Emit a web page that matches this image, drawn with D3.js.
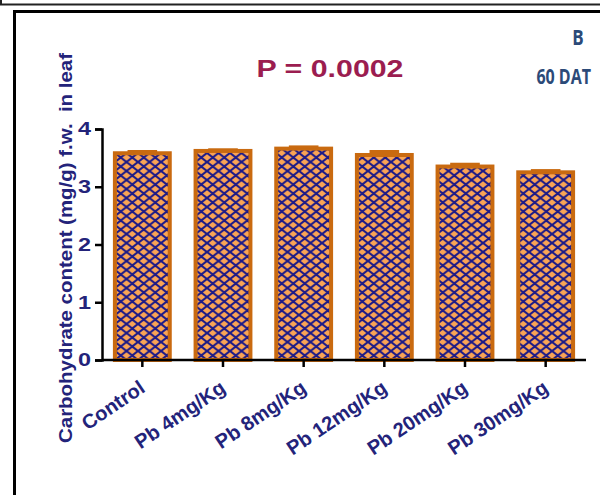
<!DOCTYPE html>
<html>
<head>
<meta charset="utf-8">
<script src="https://cdn.jsdelivr.net/npm/d3@7/dist/d3.min.js"></script>
<style>
  html, body { margin: 0; padding: 0; background: #fff; }
  svg { display: block; }
</style>
</head>
<body>
<svg id="chart" width="600" height="495"></svg>
<script>
// Carbohydrate content in leaf at 60 DAT, by lead treatment
const categories = ["Control", "Pb 4mg/Kg", "Pb 8mg/Kg", "Pb 12mg/Kg", "Pb 20mg/Kg", "Pb 30mg/Kg"];
const means = [3.58, 3.62, 3.66, 3.55, 3.35, 3.25];
const errors = [0.03, 0.02, 0.03, 0.06, 0.04, 0.03];
const yTicks = [0, 1, 2, 3, 4];
const yTitle = "Carbohydrate content (mg/g) f.w.\u00a0 in leaf";
const pLabel = "P = 0.0002";
const panelLabel = "B";
const timeLabel = "60 DAT";

const svg = d3.select("#chart");
const navy = "#23237a";
const barEdge = "#c96a10";
const barFill = "#f9a455";
const hatch = "#1c1a88";
const STRETCH = 1.3; // horizontal widening applied to tick digits

// frame lines
svg.append("line").attr("x1", 0).attr("x2", 600).attr("y1", 4.5).attr("y2", 4.5)
  .attr("stroke", "#222").attr("stroke-width", 2);
svg.append("line").attr("x1", 1).attr("x2", 1).attr("y1", 0).attr("y2", 5)
  .attr("stroke", "#222").attr("stroke-width", 2);
svg.append("rect").attr("x", 14.5).attr("y", 11.5).attr("width", 640).attr("height", 540)
  .attr("fill", "none").attr("stroke", "#000").attr("stroke-width", 3);

// crosshatch pattern
const defs = svg.append("defs");
const pw = 11.5, ph = 9;
const pat = defs.append("pattern").attr("id", "xhatch")
  .attr("patternUnits", "userSpaceOnUse").attr("width", pw).attr("height", ph)
  .attr("x", 0).attr("y", 0);
pat.append("rect").attr("width", pw).attr("height", ph).attr("fill", barFill);
pat.append("path")
  .attr("d", `M${-pw/2},${-ph/2}L${pw*1.5},${ph*1.5}M${-pw/2},${ph*1.5}L${pw*1.5},${-ph/2}`)
  .attr("stroke", hatch).attr("stroke-width", 2.1).attr("fill", "none");

// scales
const x = d3.scaleBand().domain(categories).range([102, 586])
  .paddingInner(0.32).paddingOuter(0.16);
const y = d3.scaleLinear().domain([0, 4]).range([360, 129]);

// bars
svg.append("g").selectAll("rect").data(categories).join("rect")
  .attr("x", d => x(d))
  .attr("width", x.bandwidth())
  .attr("y", (d, i) => y(means[i]))
  .attr("height", (d, i) => y(0) - y(means[i]))
  .attr("fill", "url(#xhatch)")
  .attr("stroke", barEdge).attr("stroke-width", 4);

// error bars (upper)
const eg = svg.append("g").attr("stroke", barEdge).attr("stroke-width", 3);
categories.forEach((c, i) => {
  const cx = x(c) + x.bandwidth() / 2;
  const half = x.bandwidth() * 0.27;
  eg.append("line").attr("x1", cx).attr("x2", cx)
    .attr("y1", y(means[i])).attr("y2", y(means[i] + errors[i]));
  eg.append("line").attr("x1", cx - half).attr("x2", cx + half)
    .attr("y1", y(means[i] + errors[i])).attr("y2", y(means[i] + errors[i]));
});

// axes
const yAxis = svg.append("g").attr("transform", "translate(102,0)")
  .call(d3.axisLeft(y).tickValues(yTicks).tickSize(7).tickFormat(d3.format("d")));
const xAxis = svg.append("g").attr("transform", "translate(0,360)")
  .call(d3.axisBottom(x).tickSize(7).tickSizeOuter(0));
[yAxis, xAxis].forEach(g => {
  g.select(".domain").attr("stroke", "#000").attr("stroke-width", 2.5);
  g.selectAll(".tick line").attr("stroke", "#000").attr("stroke-width", 2.5);
  g.selectAll("text").remove();
});
xAxis.select(".domain").attr("d", "M102,0H586");

// y tick labels
svg.append("g").selectAll("text").data(yTicks).join("text")
  .attr("transform", d => `translate(91,${y(d)}) scale(${STRETCH},1)`)
  .attr("dy", "0.36em")
  .attr("text-anchor", "end")
  .attr("font-family", "Liberation Sans, Arial, sans-serif")
  .attr("font-weight", "bold").attr("font-size", 18).attr("fill", navy)
  .text(d => d);

// x tick labels, slanted
svg.append("g").selectAll("text").data(categories).join("text")
  .attr("transform", d => `translate(${x(d) + x.bandwidth() / 2 + 4},391) rotate(-34)`)
  .attr("text-anchor", "end")
  .attr("font-family", "Liberation Sans, Arial, sans-serif")
  .attr("font-weight", "bold").attr("font-size", 20).attr("fill", navy)
  .text(d => d);

// y axis title
svg.append("text")
  .attr("transform", "translate(72,248) rotate(-90)")
  .attr("text-anchor", "middle")
  .attr("font-family", "Liberation Sans, Arial, sans-serif")
  .attr("font-weight", "bold").attr("font-size", 19).attr("fill", navy)
  .attr("textLength", 390).attr("lengthAdjust", "spacingAndGlyphs")
  .text(yTitle);

// P value
svg.append("text")
  .attr("x", 330).attr("y", 77)
  .attr("text-anchor", "middle")
  .attr("font-family", "Liberation Sans, Arial, sans-serif")
  .attr("font-weight", "bold").attr("font-size", 23).attr("fill", "#9b1d50")
  .attr("textLength", 147).attr("lengthAdjust", "spacingAndGlyphs")
  .text(pLabel);

// panel and time labels
svg.append("text")
  .attr("transform", "translate(578,45) scale(1,1.25)")
  .attr("text-anchor", "middle")
  .attr("font-family", "Open Sans, sans-serif")
  .attr("font-weight", "bold").attr("font-size", 17).attr("fill", "#2c4a78")
  .text(panelLabel);
svg.append("text")
  .attr("transform", "translate(591,84) scale(1,1.35)")
  .attr("text-anchor", "end")
  .attr("font-family", "Open Sans, sans-serif")
  .attr("font-weight", "bold").attr("font-size", 16).attr("fill", "#2c4a78")
  .text(timeLabel);
</script>
</body>
</html>
